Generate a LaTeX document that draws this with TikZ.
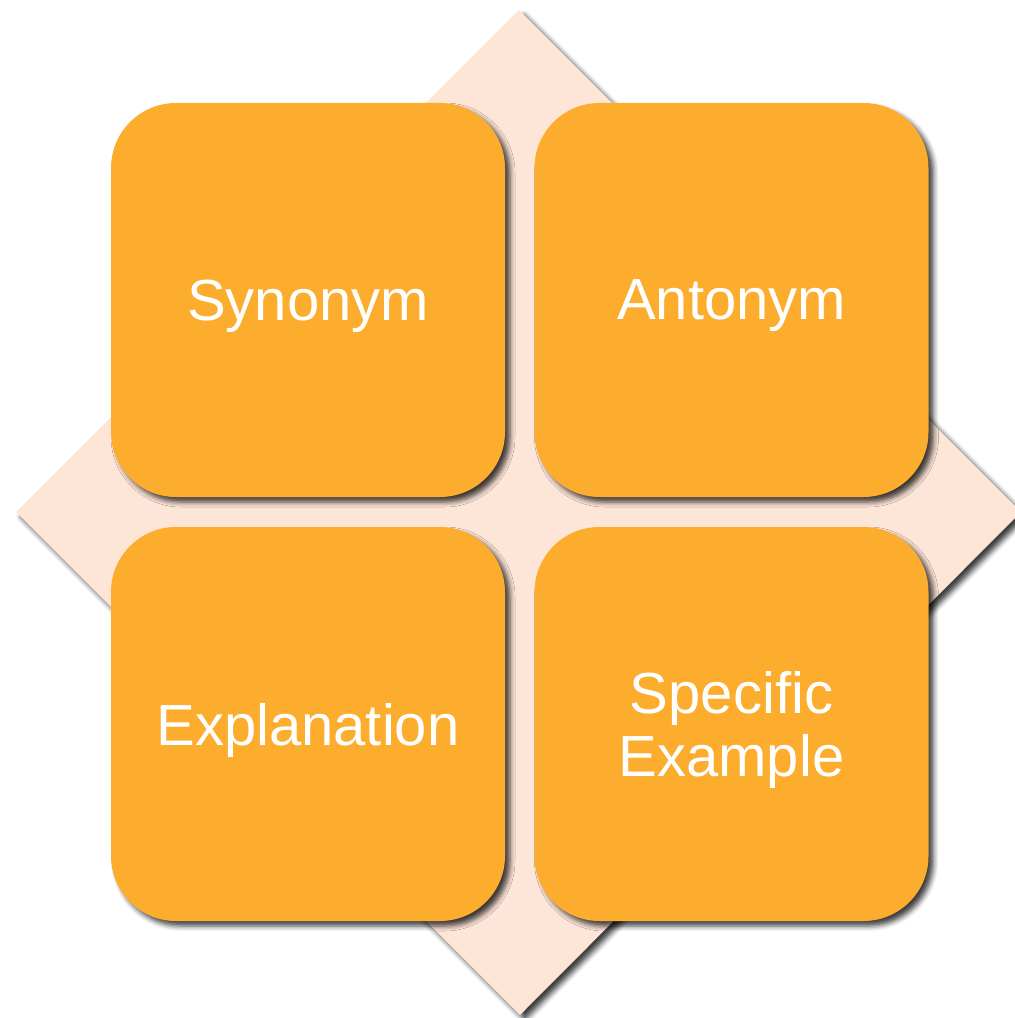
\documentclass[tikz,border=0pt]{standalone}
\usepackage{fontspec}
\setmainfont{Liberation Sans}
\usepackage{tikz}
\usetikzlibrary{shadows.blur}

\definecolor{tileorange}{HTML}{FDAD2D}
\definecolor{backpeach}{HTML}{FDE5D8}

\begin{document}
\begin{tikzpicture}[
  tile/.style={fill=tileorange, rounded corners=1.3cm, minimum width=7.88cm, minimum height=7.88cm,
    text=white, align=center, text depth=0pt, font=\fontsize{33}{36}\selectfont,
    blur shadow={shadow xshift=0.1cm, shadow yshift=-0.1cm, shadow blur radius=0.1cm, shadow opacity=75}},
  backdrop/.style={fill=backpeach,
    blur shadow={shadow xshift=0.1cm, shadow yshift=-0.1cm, shadow blur radius=0.1cm, shadow opacity=75}}
]
\useasboundingbox (0,0) rectangle (20.28,-20.36);

% diamond behind the tiles
\coordinate (dtop) at (10.38,-0.2);
\coordinate (dright) at (20.42,-10.24);
\coordinate (dbottom) at (10.4,-20.3);
\coordinate (dleft) at (0.32,-10.24);
\path[backdrop] (dtop) -- (dright) -- (dbottom) -- (dleft) -- cycle;

% the four tiles
\node[tile] (synonym) at (6.16,-6.0) {Synonym};
\node[tile] (antonym) at (14.63,-6.0) {Antonym};
\node[tile] (explanation) at (6.16,-14.48) {Explanation};
\node[tile] (example) at (14.63,-14.48) {Specific\\Example};

\end{tikzpicture}
\end{document}
